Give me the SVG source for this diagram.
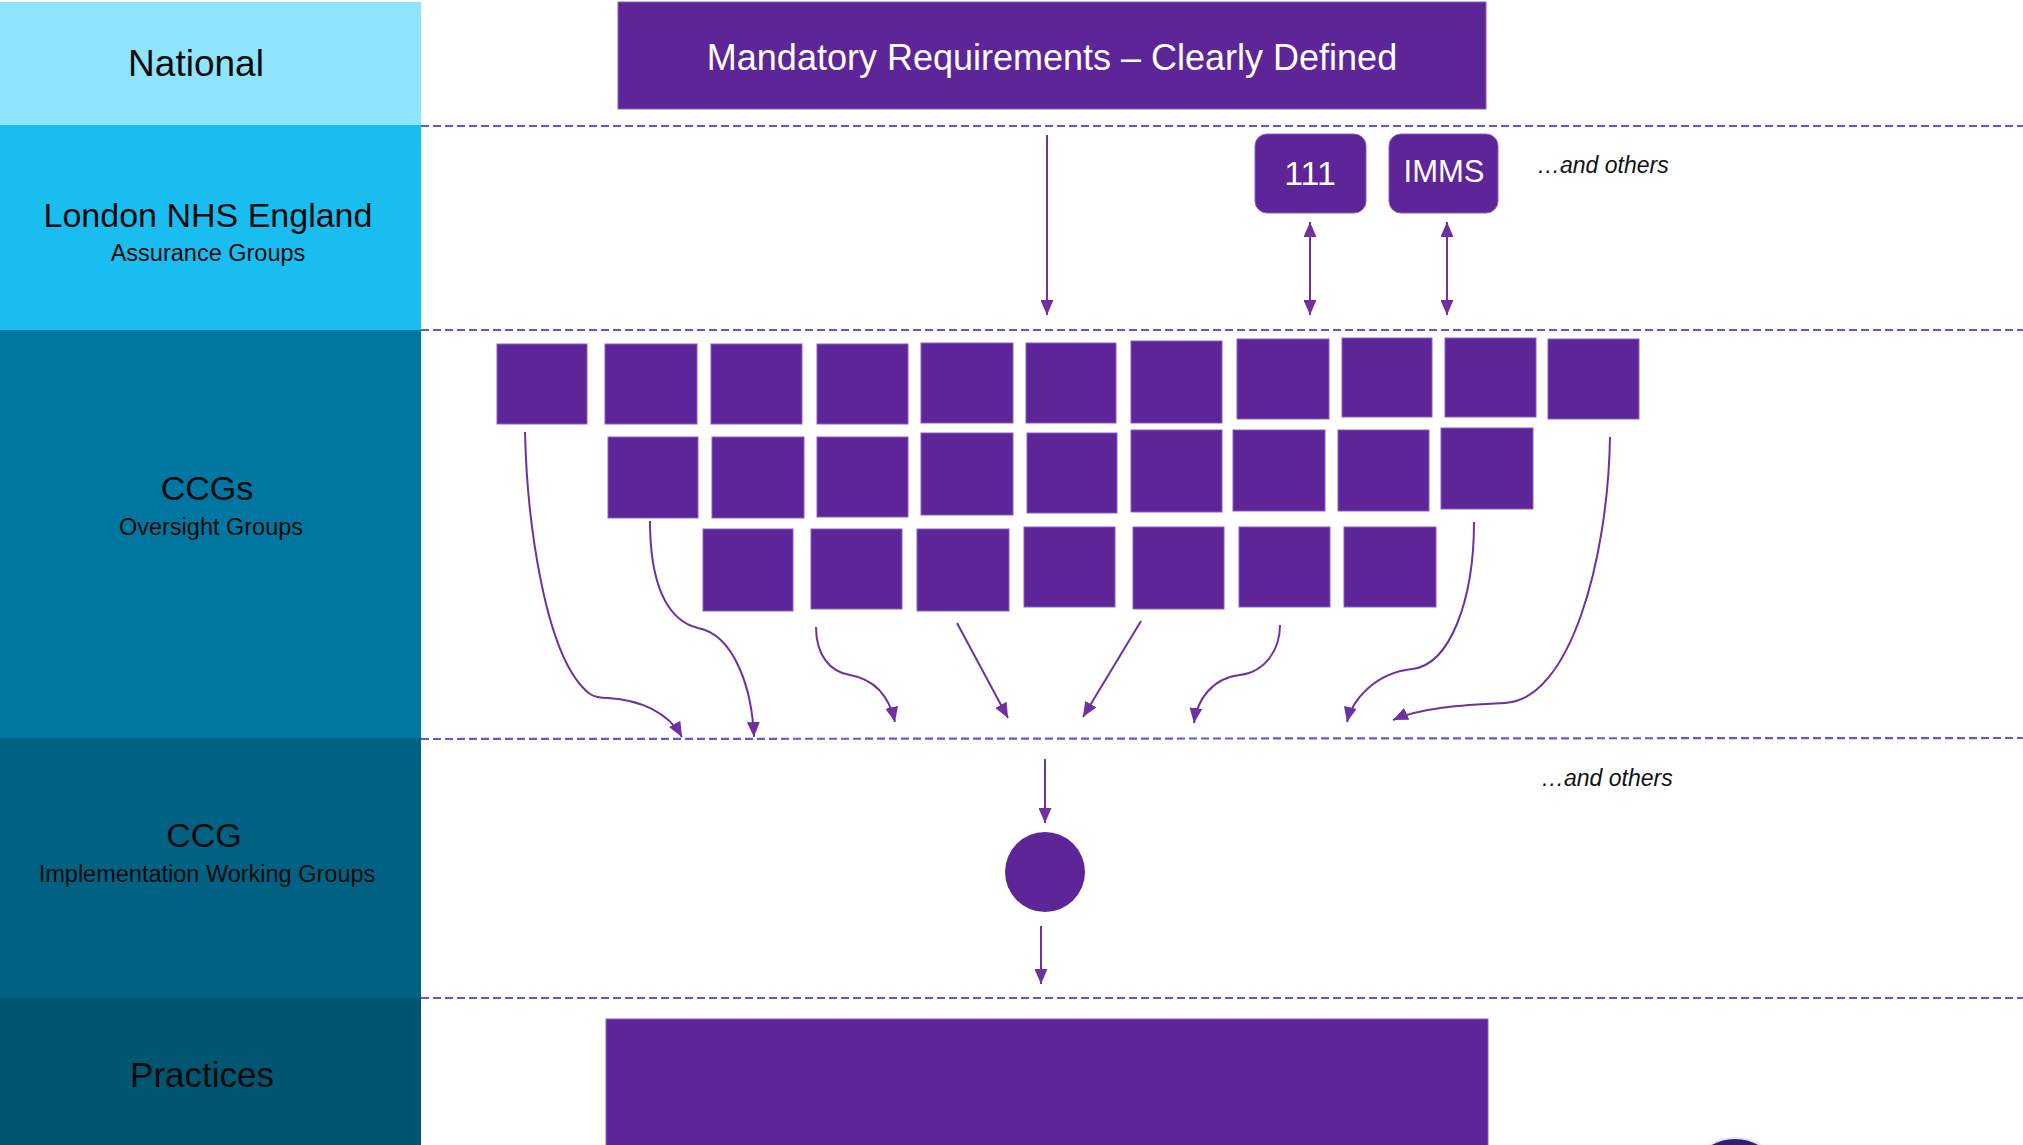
<svg xmlns="http://www.w3.org/2000/svg" width="2023" height="1145" viewBox="0 0 2023 1145">
<defs>
<style>
.lbl{font-family:"Liberation Sans",Arial,sans-serif;fill:#0a0a0a;text-anchor:middle}
.big{font-size:34px}
.sub{font-size:23.5px}
.box{fill:#5E2598;stroke:#8A5CC4;stroke-width:1}
.wt{font-family:"Liberation Sans",Arial,sans-serif;fill:#ffffff;text-anchor:middle}
.dash{stroke:#5A5AE0;stroke-width:2.2;stroke-dasharray:8 4;fill:none}
.conn{stroke:#7030A0;stroke-width:2;fill:none}
.note{font-family:"Liberation Sans",Arial,sans-serif;font-style:italic;font-size:23px;fill:#111}
</style>
<marker id="ah" markerUnits="userSpaceOnUse" markerWidth="16" markerHeight="13" refX="15" refY="6.5" orient="auto-start-reverse">
<path d="M0,0 L15,6.5 L0,13 z" fill="#7030A0"/>
</marker>
</defs>
<rect width="2023" height="1145" fill="#ffffff"/>

<g id="bands">
<rect x="0" y="2" width="421" height="123" fill="#8EE3FD"/>
<rect x="0" y="125" width="421" height="205" fill="#19BDF0"/>
<rect x="0" y="330" width="421" height="408" fill="#0077A0"/>
<rect x="0" y="738" width="421" height="260" fill="#006282"/>
<rect x="0" y="998" width="421" height="147" fill="#005571"/>
<text class="lbl" x="196" y="76" style="font-size:37px">National</text>
<text class="lbl big" x="208" y="227">London NHS England</text>
<text class="lbl sub" x="208" y="261">Assurance Groups</text>
<text class="lbl big" x="207" y="500">CCGs</text>
<text class="lbl sub" x="211" y="535">Oversight Groups</text>
<text class="lbl big" x="204" y="847">CCG</text>
<text class="lbl sub" x="207" y="882">Implementation Working Groups</text>
<text class="lbl" x="202" y="1087" style="font-size:35px">Practices</text>
</g>

<g id="dividers">
<line class="dash" x1="421" y1="126" x2="2023" y2="126"/>
<line class="dash" x1="421" y1="330" x2="2023" y2="330"/>
<line class="dash" x1="421" y1="739" x2="2023" y2="738"/>
<line class="dash" x1="421" y1="998" x2="2023" y2="998"/>
</g>

<g id="mandatory">
<rect class="box" x="618" y="2" width="868" height="107"/>
<text class="wt" x="1052" y="70" font-size="36">Mandatory Requirements – Clearly Defined</text>
</g>

<g id="n111">
<rect class="box" x="1255" y="134" width="111" height="79" rx="12"/>
<text class="wt" x="1310" y="185" font-size="34">111</text>
</g>
<g id="imms">
<rect class="box" x="1389" y="134" width="109" height="79" rx="12"/>
<text class="wt" x="1444" y="182" font-size="31">IMMS</text>
</g>
<text class="note" x="1537" y="173">…and others</text>

<g id="ccg-row1">
<rect class="box" x="497" y="344" width="90" height="80"/>
<rect class="box" x="605" y="344" width="92" height="80"/>
<rect class="box" x="711" y="344" width="91" height="80"/>
<rect class="box" x="817" y="344" width="91" height="80"/>
<rect class="box" x="921" y="343" width="92" height="80"/>
<rect class="box" x="1026" y="343" width="90" height="80"/>
<rect class="box" x="1131" y="341" width="91" height="82"/>
<rect class="box" x="1237" y="339" width="92" height="80"/>
<rect class="box" x="1342" y="338" width="90" height="79"/>
<rect class="box" x="1445" y="338" width="91" height="79"/>
<rect class="box" x="1548" y="339" width="91" height="80"/>
</g>
<g id="ccg-row2">
<rect class="box" x="608" y="437" width="90" height="81"/>
<rect class="box" x="712" y="437" width="92" height="81"/>
<rect class="box" x="817" y="437" width="91" height="80"/>
<rect class="box" x="921" y="433" width="92" height="82"/>
<rect class="box" x="1027" y="433" width="90" height="80"/>
<rect class="box" x="1131" y="430" width="91" height="82"/>
<rect class="box" x="1233" y="430" width="92" height="81"/>
<rect class="box" x="1338" y="430" width="91" height="81"/>
<rect class="box" x="1441" y="428" width="92" height="81"/>
</g>
<g id="ccg-row3">
<rect class="box" x="703" y="529" width="90" height="82"/>
<rect class="box" x="811" y="529" width="91" height="80"/>
<rect class="box" x="917" y="529" width="92" height="82"/>
<rect class="box" x="1024" y="527" width="91" height="80"/>
<rect class="box" x="1133" y="527" width="91" height="82"/>
<rect class="box" x="1239" y="527" width="91" height="80"/>
<rect class="box" x="1344" y="527" width="92" height="80"/>
</g>

<g id="implementation">
<circle cx="1045" cy="872" r="40" fill="#5E2598"/>
<text class="note" x="1541" y="786">…and others</text>
</g>

<g id="practices">
<rect class="box" x="606" y="1019" width="882" height="130"/>
<circle cx="1735" cy="1186" r="48" fill="#2E1E78" stroke="#e8e4f4" stroke-width="2"/>
</g>

<g id="connectors">
<line class="conn" x1="1047" y1="135" x2="1047" y2="315" marker-end="url(#ah)"/>
<line class="conn" x1="1310" y1="222" x2="1310" y2="315" marker-start="url(#ah)" marker-end="url(#ah)"/>
<line class="conn" x1="1447" y1="222" x2="1447" y2="315" marker-start="url(#ah)" marker-end="url(#ah)"/>
<path class="conn" d="M525,432 C527,520 545,660 590,694 Q596,698 608,698 C640,700 668,712 682,737" marker-end="url(#ah)"/>
<path class="conn" d="M650,521 C650,580 665,620 698,628 C735,635 752,690 754,737" marker-end="url(#ah)"/>
<path class="conn" d="M816,627 C816,655 830,672 850,675 C878,680 890,700 895,722" marker-end="url(#ah)"/>
<line class="conn" x1="957" y1="623" x2="1008" y2="718" marker-end="url(#ah)"/>
<line class="conn" x1="1141" y1="621" x2="1083" y2="717" marker-end="url(#ah)"/>
<path class="conn" d="M1280,625 C1280,650 1265,672 1240,675 C1212,678 1197,700 1194,723" marker-end="url(#ah)"/>
<path class="conn" d="M1474,522 C1474,600 1450,665 1412,669 C1375,673 1352,700 1347,722" marker-end="url(#ah)"/>
<path class="conn" d="M1610,437 C1608,560 1570,700 1505,703 C1460,705 1420,708 1393,720" marker-end="url(#ah)"/>
<line class="conn" x1="1045" y1="759" x2="1045" y2="823" marker-end="url(#ah)"/>
<line class="conn" x1="1041" y1="926" x2="1041" y2="984" marker-end="url(#ah)"/>
</g>
</svg>
